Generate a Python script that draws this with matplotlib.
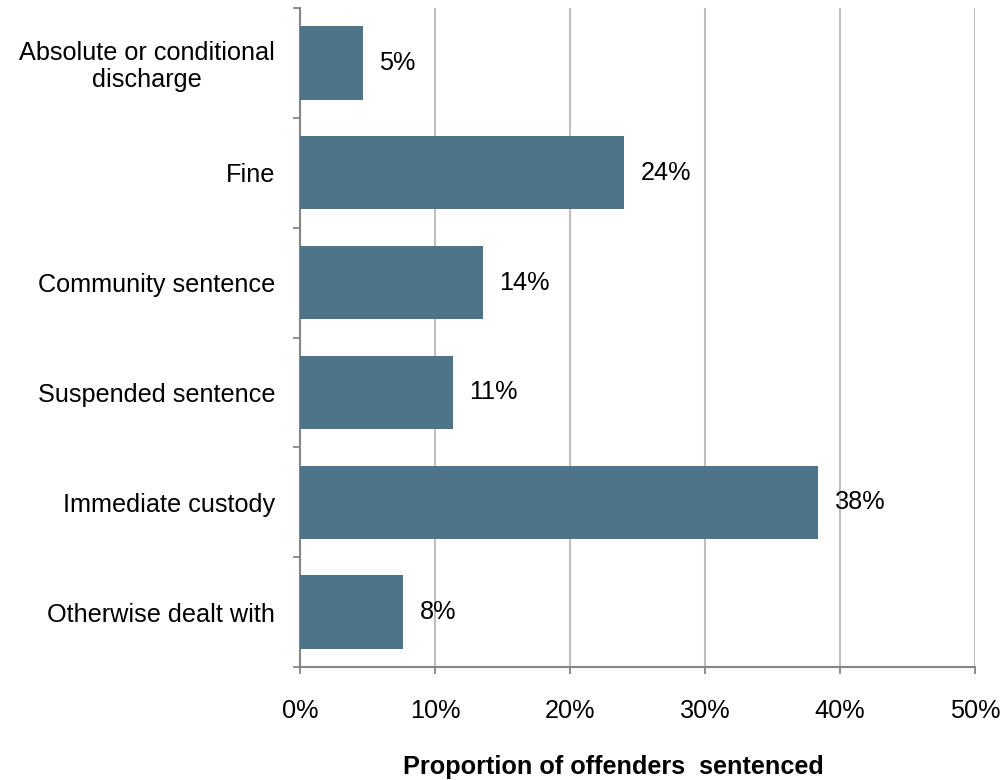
import matplotlib
matplotlib.use("Agg")
import matplotlib.pyplot as plt
from matplotlib.ticker import FuncFormatter

plt.rcParams['font.family'] = ['Liberation Sans', 'DejaVu Sans']

categories = [
    "Absolute or conditional\ndischarge",
    "Fine",
    "Community sentence",
    "Suspended sentence",
    "Immediate custody",
    "Otherwise dealt with",
]
shares = [4.65, 24.0, 13.55, 11.3, 38.4, 7.65]
x_ticks = [0, 10, 20, 30, 40, 50]

bar_color = "#4E7489"
grid_color = "#BFBFBF"
axis_color = "#868686"
fs = 18.2

fig = plt.figure(figsize=(10.05, 7.8), dpi=100)
ax = fig.add_axes([300 / 1005, 1 - 667 / 780, (975 - 300) / 1005, (667 - 8) / 780])

n = len(categories)
ypos = list(range(n))
ax.barh(ypos, shares, height=0.667, color=bar_color, zorder=3)

for y, v in zip(ypos, shares):
    ax.annotate(f"{round(v):d}%", xy=(v, y), xytext=(12, 0), textcoords="offset points",
                ha="left", va="center", fontsize=fs, color="black")

ax.set_xlim(0, 50)
ax.set_ylim(n - 0.5, -0.5)
ax.set_xticks(x_ticks)
ax.xaxis.set_major_formatter(FuncFormatter(lambda v, p: f"{v:.0f}%"))
ax.set_yticks([i - 0.5 for i in range(n + 1)], minor=False)
ax.set_yticklabels([])
ax.set_yticks(ypos, minor=True)
ax.set_yticklabels(categories, minor=True, fontsize=fs, ha="right",
                   multialignment="center", linespacing=1.15)
ax.tick_params(axis="y", which="minor", length=0, pad=18)
ax.tick_params(axis="y", which="major", length=5, width=1.3, color=axis_color, direction="out")
ax.tick_params(axis="x", length=5, width=1.3, color=axis_color, direction="out",
               labelsize=fs, pad=18)

ax.grid(axis="x", color=grid_color, linewidth=1.5, zorder=0)
ax.set_axisbelow(True)
for s in ("top", "right"):
    ax.spines[s].set_visible(False)
for s in ("left", "bottom"):
    ax.spines[s].set_color(axis_color)
    ax.spines[s].set_linewidth(1.5)

fig.text(613 / 1005, 1 - 767 / 780, "Proportion of offenders  sentenced",
         ha="center", va="center", fontsize=fs, fontweight="bold")

fig.savefig("out.png", dpi=100)
